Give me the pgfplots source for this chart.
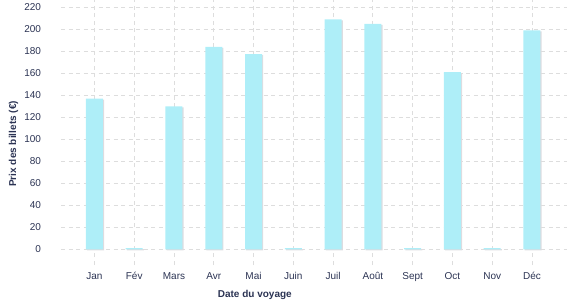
\documentclass[border=0pt]{standalone}
\usepackage{fontspec}
\setmainfont{Liberation Sans}
\usepackage{pgfplots}
\pgfplotsset{compat=1.18}
\definecolor{barc}{RGB}{174,238,248}
\definecolor{shad}{RGB}{220,220,224}
\definecolor{txt}{RGB}{43,51,83}
\definecolor{gridc}{RGB}{221,221,221}
\begin{document}
\begin{tikzpicture}
\useasboundingbox (0,0) rectangle (577bp,300bp);
\begin{axis}[
 at={(61bp,35bp)}, anchor=south west,
 scale only axis, width=506bp, height=265bp,
 xmin=-0.84, xmax=11.88, ymin=-14.3, ymax=226.6,
 axis line style={draw=none}, major tick length=0,
 xtick={0,...,11},
 xticklabels={Jan,Fév,Mars,Avr,Mai,Juin,Juil,Août,Sept,Oct,Nov,Déc},
 ytick={0,20,...,220},
 grid=major,
 major grid style={gridc, dash pattern=on 4bp off 3.5bp, line width=0.8bp},
 font=\fontsize{10bp}{12bp}\selectfont,
 tick label style={text=txt},
 /pgf/number format/assume math mode=true,
 yticklabel style={anchor=east, xshift=-16.5bp},
 xticklabel style={anchor=base, yshift=-14bp},
 xlabel={Date du voyage}, ylabel={Prix des billets (€)},
 label style={font=\fontsize{10bp}{12bp}\selectfont\bfseries, text=txt},
 xlabel style={at={(axis description cs:0.383,0)}, anchor=base, yshift=-32bp},
 ylabel style={at={(axis description cs:0,0.457)}, anchor=center, yshift=47.5bp},
 ybar, bar width=17bp,
]
\addplot[fill=shad, draw=none, bar shift=1.2bp, yshift=-1bp] coordinates {
 (0,137) (1,1) (2,130) (3,184) (4,177.5) (5,1) (6,209) (7,205) (8,1) (9,161) (10,1) (11,199)};
\addplot[fill=barc, draw=none, bar shift=0bp] coordinates {
 (0,137) (1,1) (2,130) (3,184) (4,177.5) (5,1) (6,209) (7,205) (8,1) (9,161) (10,1) (11,199)};
\end{axis}
\end{tikzpicture}
\end{document}
